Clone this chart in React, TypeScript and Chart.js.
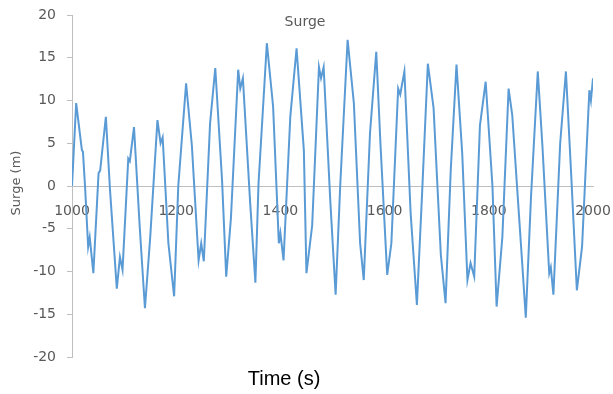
import React, { useEffect, useRef } from "react";
import { Chart, registerables } from "chart.js";

Chart.register(...registerables);

const times = [
  1000, 1008, 1019, 1021, 1025, 1031, 1034, 1041, 1051, 1054, 1065, 1073, 1086, 1092, 1097,
  1108, 1111, 1119, 1130, 1140, 1150, 1164, 1170, 1174, 1185, 1196, 1204, 1219, 1230, 1243,
  1248, 1253, 1265, 1275, 1288, 1296, 1305, 1319, 1323, 1328, 1342, 1352, 1358, 1374, 1386,
  1397, 1400, 1406, 1419, 1431, 1445, 1450, 1461, 1474, 1478, 1483, 1496, 1506, 1515, 1529,
  1541, 1553, 1560, 1572, 1584, 1592, 1605, 1613, 1626, 1630, 1638, 1650, 1662, 1672, 1683,
  1694, 1708, 1717, 1727, 1738, 1749, 1759, 1765, 1772, 1783, 1794, 1807, 1815, 1826, 1838,
  1845, 1862, 1871, 1881, 1894, 1903, 1916, 1919, 1924, 1937, 1948, 1958, 1969, 1979, 1993,
  1996, 2000,
];

const surge = [
  0, 9.7, 4.2, 4.0, 0, -7.1, -6.0, -10.2, 1.5, 1.8, 8.1, -0.5, -12.0, -8.3, -9.8,
  3.2, 2.9, 6.9, -4.8, -14.3, -6.1, 7.7, 5.0, 5.7, -6.7, -12.9, 0, 12.0, 4.8, -8.7,
  -6.7, -8.8, 7.3, 13.8, 0.7, -10.6, -3.8, 13.6, 11.4, 12.6, -2, -11.3, 0.3, 16.7, 9.3,
  -6.7, -5.5, -8.7, 8.1, 16.1, 4.2, -10.2, -4.6, 13.9, 12.6, 13.9, -2, -12.7, 0.3, 17.1,
  9.7, -6.7, -11, 6.2, 15.7, 5, -10.4, -6.7, 11.4, 10.7, 13.4, -3.2, -13.9, -0.8, 14.3,
  9.1, -8.1, -13.7, 1.9, 14.2, 3.8, -11, -9, -10.6, 7.1, 12.2, 0, -14.1, -6, 11.4,
  8.3, -7.1, -15.4, -1.3, 13.4, 4.6, -10.2, -9.5, -12.7, 5, 13.4, 1.5, -12.2, -7.1, 11.2,
  10, 12.6,
];

const chartTitle = "Surge";
const xTitle = "Time (s)";
const yTitle = "Surge (m)";

export default function App() {
  const ref = useRef<HTMLCanvasElement>(null);

  useEffect(() => {
    document.body.style.margin = "0";
    const data = times.map((t, i) => ({ x: t, y: surge[i] }));

    const textPlugin = {
      id: "texts",
      afterDraw(chart: any) {
        const ctx = chart.ctx;
        ctx.save();
        ctx.fillStyle = "#595959";
        ctx.font = "14px 'DejaVu Sans'";
        ctx.textAlign = "center";
        ctx.textBaseline = "alphabetic";
        ctx.fillText(chartTitle, 305, 26);

        ctx.fillStyle = "#000000";
        ctx.font = "20px 'Liberation Sans'";
        ctx.fillText(xTitle, 284, 385);

        ctx.fillStyle = "#595959";
        ctx.font = "13px 'DejaVu Sans'";
        ctx.translate(17, 183);
        ctx.rotate(-Math.PI / 2);
        ctx.textBaseline = "middle";
        ctx.fillText(yTitle, 0, 0);
        ctx.restore();
      },
    };

    const chart = new Chart(ref.current as HTMLCanvasElement, {
      type: "line",
      data: {
        datasets: [
          {
            data,
            borderColor: "#5B9BD5",
            borderWidth: 2,
            pointRadius: 0,
            fill: false,
            tension: 0,
          },
        ],
      },
      options: {
        animation: false,
        responsive: false,
        devicePixelRatio: 1,
        layout: { padding: { left: 0, right: 20, top: 15, bottom: 37 } },
        plugins: {
          legend: { display: false },
          tooltip: { enabled: false },
          title: { display: false },
        },
        scales: {
          x: {
            type: "linear",
            min: 1000,
            max: 2000,
            position: { y: 0 } as any,
            afterFit: (s: any) => {
              s.paddingLeft = 0;
              s.paddingRight = 0;
              s.paddingTop = 0;
              s.paddingBottom = 0;
            },
            grid: { display: false },
            border: { display: true, color: "#bfbfbf", width: 1 },
            ticks: {
              stepSize: 200,
              padding: 9,
              color: "#595959",
              font: { family: "DejaVu Sans", size: 14 },
              maxRotation: 0,
              autoSkip: false,
              callback: (v: any) => String(v),
            },
          },
          y: {
            type: "linear",
            min: -20,
            max: 20,
            position: "left",
            afterFit: (s: any) => {
              s.width = 72;
              s.paddingTop = 0;
              s.paddingBottom = 0;
              s.paddingLeft = 0;
              s.paddingRight = 0;
            },
            grid: {
              display: true,
              drawOnChartArea: false,
              drawTicks: true,
              tickLength: 5,
              color: "#bfbfbf",
            },
            border: { display: true, color: "#bfbfbf", width: 1 },
            ticks: {
              stepSize: 5,
              padding: 11,
              color: "#595959",
              font: { family: "DejaVu Sans", size: 14 },
              callback: (v: any) => String(v),
            },
          },
        },
      } as any,
      plugins: [textPlugin],
    });
    return () => chart.destroy();
  }, []);

  return (
    <div style={{ position: "absolute", left: 0, top: 0, width: 613, height: 394 }}>
      <canvas ref={ref} width={613} height={394} />
    </div>
  );
}
